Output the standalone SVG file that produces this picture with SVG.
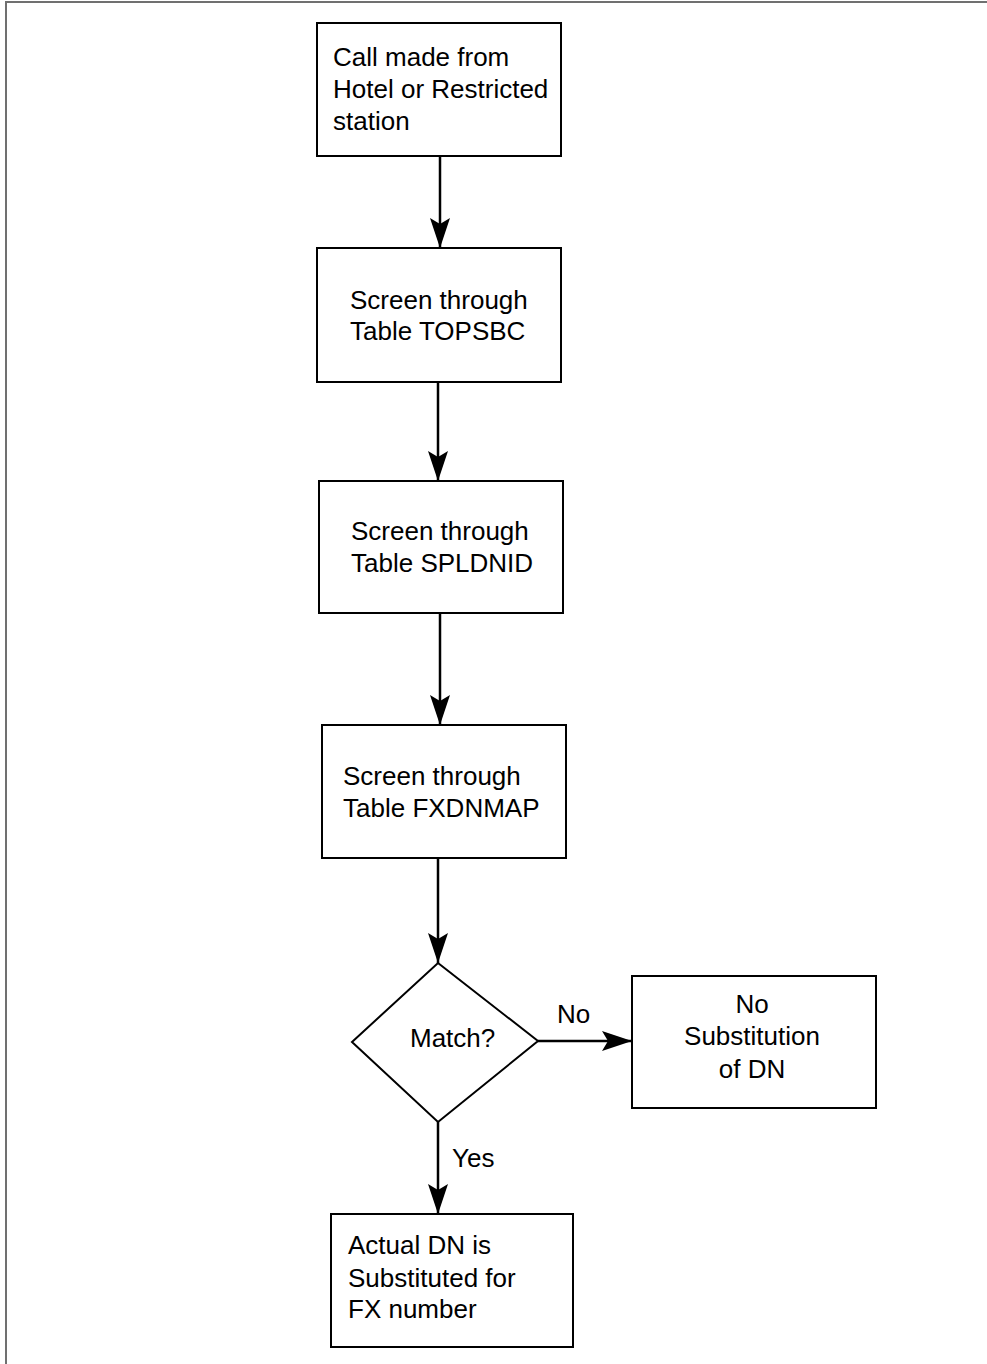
<svg xmlns="http://www.w3.org/2000/svg" width="987" height="1364" viewBox="0 0 987 1364">
<style>
  .box { fill: #fff; stroke: #000; stroke-width: 2; }
  .t { font-family: "Liberation Sans", Arial, sans-serif; font-size: 26px; fill: #000; }
  .c { stroke: #000; stroke-width: 2.5; fill: none; }
  .frame { stroke: #707070; stroke-width: 2; fill: none; }
</style>
<defs>
  <marker id="arr" viewBox="0 0 30 20" refX="30" refY="10" markerWidth="30" markerHeight="20" markerUnits="userSpaceOnUse" orient="auto">
    <path d="M0,0 L30,10 L0,20 L6,10 Z" fill="#000"/>
  </marker>
</defs>
<rect width="987" height="1364" fill="#fff"/>
<path class="frame" d="M6,1364 L6,2 L987,2"/>

<g id="n1">
  <rect class="box" x="317" y="23" width="244" height="133"/>
  <text class="t" x="333" y="66">Call made from</text>
  <text class="t" x="333" y="98">Hotel or Restricted</text>
  <text class="t" x="333" y="130">station</text>
</g>
<g id="n2">
  <rect class="box" x="317" y="248" width="244" height="134"/>
  <text class="t" x="350" y="309">Screen through</text>
  <text class="t" x="350" y="340">Table TOPSBC</text>
</g>
<g id="n3">
  <rect class="box" x="319" y="481" width="244" height="132"/>
  <text class="t" x="351" y="540">Screen through</text>
  <text class="t" x="351" y="572">Table SPLDNID</text>
</g>
<g id="n4">
  <rect class="box" x="322" y="725" width="244" height="133"/>
  <text class="t" x="343" y="785">Screen through</text>
  <text class="t" x="343" y="817">Table FXDNMAP</text>
</g>
<g id="n5">
  <polygon class="box" points="438,963 538,1041 438,1122 352,1042"/>
  <text class="t" x="410" y="1047">Match?</text>
</g>
<g id="n6">
  <rect class="box" x="632" y="976" width="244" height="132"/>
  <text class="t" x="752" y="1013" text-anchor="middle">No</text>
  <text class="t" x="752" y="1045" text-anchor="middle">Substitution</text>
  <text class="t" x="752" y="1078" text-anchor="middle">of DN</text>
</g>
<g id="n7">
  <rect class="box" x="331" y="1214" width="242" height="133"/>
  <text class="t" x="348" y="1254">Actual DN is</text>
  <text class="t" x="348" y="1287">Substituted for</text>
  <text class="t" x="348" y="1318">FX number</text>
</g>

<g id="connectors">
  <line class="c" x1="440" y1="156" x2="440" y2="248" marker-end="url(#arr)"/>
  <line class="c" x1="438" y1="382" x2="438" y2="481" marker-end="url(#arr)"/>
  <line class="c" x1="440" y1="613" x2="440" y2="725" marker-end="url(#arr)"/>
  <line class="c" x1="438" y1="858" x2="438" y2="963" marker-end="url(#arr)"/>
  <line class="c" x1="538" y1="1041" x2="632" y2="1041" marker-end="url(#arr)"/>
  <line class="c" x1="438" y1="1122" x2="438" y2="1214" marker-end="url(#arr)"/>
  <text class="t" x="557" y="1023">No</text>
  <text class="t" x="452" y="1167">Yes</text>
</g>
</svg>
